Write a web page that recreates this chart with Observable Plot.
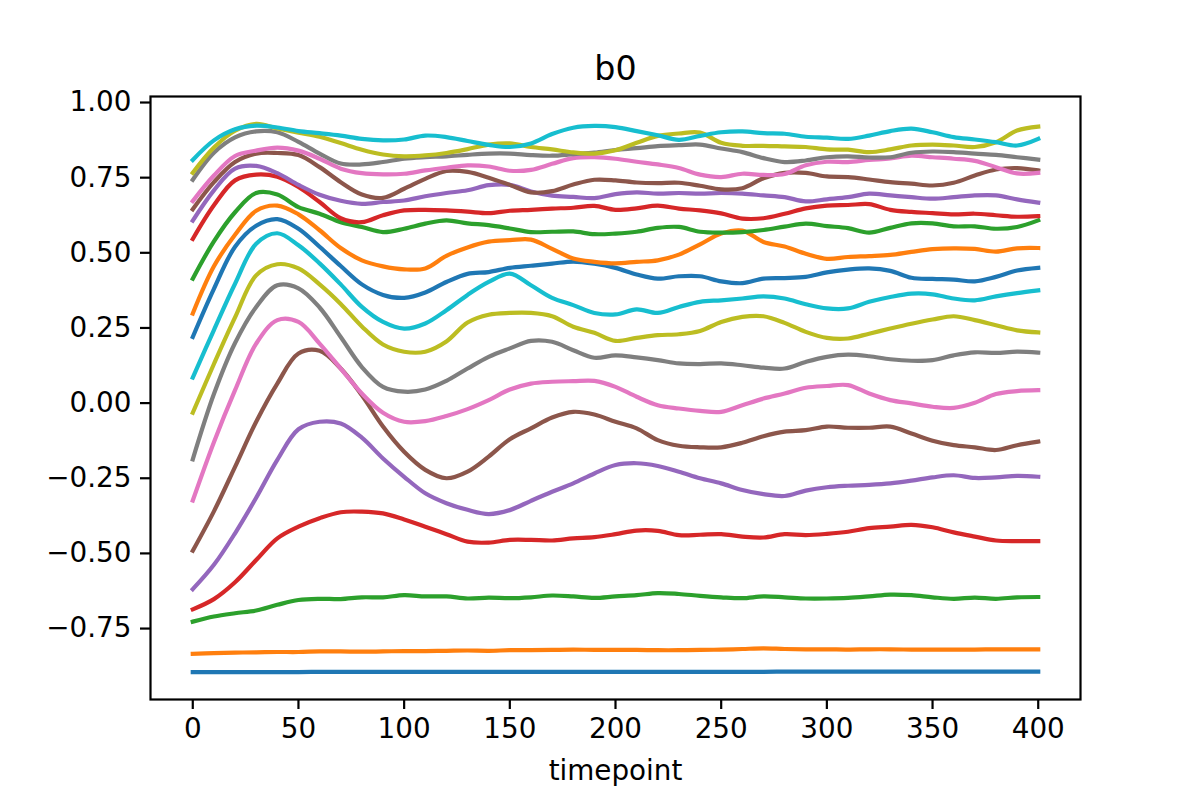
<!DOCTYPE html>
<html>
<head>
<meta charset="utf-8">
<script src="https://cdn.jsdelivr.net/npm/d3@7"></script>
<script src="https://cdn.jsdelivr.net/npm/@observablehq/plot@0.6"></script>
<style>
  html, body { margin: 0; padding: 0; background: #fff; }
  #chart svg { display: block; }
</style>
</head>
<body>
<div id="chart"></div>
<script>
// ---- data ----
const title = "b0";
const xLabel = "timepoint";
const xTicks = [0, 50, 100, 150, 200, 250, 300, 350, 400];
const yTicks = [-0.75, -0.5, -0.25, 0, 0.25, 0.5, 0.75, 1.0];
const timepoints = [0,10,20,30,40,50,60,70,80,90,100,110,120,130,140,150,160,170,180,190,200,
                    210,220,230,240,250,260,270,280,290,300,310,320,330,340,350,360,370,380,390,400];
const palette = ["#1f77b4","#ff7f0e","#2ca02c","#d62728","#9467bd","#8c564b","#e377c2","#7f7f7f","#bcbd22","#17becf"];

const s01 = [-0.895,-0.895,-0.895,-0.895,-0.895,-0.895,-0.894,-0.894,-0.894,-0.894,-0.894,-0.894,-0.894,-0.894,-0.894,-0.894,-0.894,-0.894,-0.894,-0.894,-0.894,
             -0.894,-0.894,-0.894,-0.894,-0.894,-0.894,-0.894,-0.893,-0.893,-0.893,-0.893,-0.893,-0.893,-0.893,-0.893,-0.893,-0.893,-0.893,-0.893,-0.893];
const s02 = [-0.834,-0.832,-0.830,-0.829,-0.828,-0.828,-0.826,-0.826,-0.827,-0.826,-0.825,-0.825,-0.824,-0.823,-0.824,-0.822,-0.822,-0.821,-0.820,-0.821,-0.821,
             -0.821,-0.822,-0.822,-0.821,-0.820,-0.818,-0.816,-0.818,-0.819,-0.819,-0.820,-0.819,-0.819,-0.820,-0.820,-0.820,-0.820,-0.819,-0.819,-0.819];
const s03 = [-0.727,-0.710,-0.699,-0.690,-0.671,-0.655,-0.651,-0.652,-0.646,-0.646,-0.639,-0.643,-0.643,-0.650,-0.647,-0.649,-0.646,-0.640,-0.643,-0.648,-0.643,
             -0.639,-0.632,-0.635,-0.641,-0.646,-0.649,-0.643,-0.646,-0.650,-0.650,-0.648,-0.643,-0.637,-0.639,-0.646,-0.651,-0.647,-0.651,-0.646,-0.645];
const s04 = [-0.686,-0.652,-0.596,-0.522,-0.450,-0.411,-0.383,-0.363,-0.361,-0.367,-0.387,-0.411,-0.436,-0.461,-0.464,-0.455,-0.455,-0.457,-0.450,-0.446,-0.436,
             -0.424,-0.425,-0.439,-0.438,-0.436,-0.444,-0.447,-0.436,-0.439,-0.435,-0.428,-0.416,-0.411,-0.405,-0.413,-0.430,-0.444,-0.457,-0.459,-0.459];
const s05 = [-0.619,-0.538,-0.433,-0.315,-0.189,-0.087,-0.062,-0.068,-0.115,-0.184,-0.245,-0.300,-0.333,-0.355,-0.369,-0.356,-0.325,-0.295,-0.267,-0.234,-0.206,
             -0.200,-0.209,-0.228,-0.250,-0.267,-0.289,-0.303,-0.309,-0.291,-0.280,-0.275,-0.272,-0.267,-0.258,-0.247,-0.240,-0.249,-0.247,-0.242,-0.245];
const s06 = [-0.491,-0.360,-0.212,-0.062,0.065,0.165,0.174,0.115,0.026,-0.078,-0.162,-0.222,-0.250,-0.228,-0.178,-0.120,-0.084,-0.048,-0.029,-0.038,-0.062,
             -0.084,-0.123,-0.142,-0.147,-0.147,-0.132,-0.110,-0.095,-0.090,-0.078,-0.082,-0.082,-0.078,-0.101,-0.125,-0.140,-0.147,-0.156,-0.140,-0.128];
const s07 = [-0.324,-0.130,0.043,0.198,0.276,0.270,0.198,0.115,0.032,-0.032,-0.062,-0.060,-0.043,-0.020,0.010,0.045,0.065,0.071,0.073,0.074,0.054,
             0.021,-0.007,-0.018,-0.026,-0.029,-0.007,0.015,0.032,0.051,0.057,0.060,0.032,0.010,-0.001,-0.012,-0.016,0.001,0.030,0.040,0.043];
const s08 = [-0.187,0.030,0.200,0.320,0.392,0.382,0.318,0.220,0.120,0.054,0.038,0.045,0.074,0.115,0.154,0.182,0.207,0.204,0.176,0.151,0.159,
             0.152,0.143,0.132,0.130,0.132,0.126,0.118,0.115,0.137,0.154,0.161,0.156,0.146,0.141,0.143,0.159,0.169,0.167,0.171,0.168];
const s09 = [-0.032,0.130,0.285,0.425,0.462,0.448,0.395,0.330,0.255,0.195,0.171,0.171,0.205,0.268,0.294,0.300,0.300,0.289,0.254,0.234,0.207,
             0.217,0.226,0.229,0.240,0.270,0.287,0.289,0.267,0.237,0.217,0.215,0.231,0.248,0.264,0.278,0.289,0.276,0.259,0.242,0.235];
const s10 = [0.085,0.243,0.397,0.530,0.565,0.525,0.465,0.395,0.320,0.270,0.248,0.265,0.309,0.360,0.403,0.431,0.392,0.350,0.326,0.300,0.295,
             0.312,0.300,0.320,0.337,0.342,0.348,0.355,0.348,0.329,0.315,0.315,0.337,0.353,0.364,0.362,0.348,0.342,0.355,0.366,0.375];
const s11 = [0.220,0.380,0.520,0.590,0.612,0.580,0.520,0.456,0.395,0.360,0.350,0.368,0.403,0.430,0.436,0.450,0.457,0.464,0.471,0.464,0.450,
             0.428,0.414,0.422,0.422,0.405,0.399,0.414,0.416,0.420,0.435,0.444,0.448,0.440,0.417,0.413,0.411,0.405,0.420,0.441,0.450];
const s12 = [0.298,0.455,0.560,0.640,0.657,0.628,0.575,0.516,0.475,0.455,0.445,0.448,0.490,0.518,0.537,0.542,0.544,0.513,0.481,0.470,0.465,
             0.470,0.475,0.494,0.528,0.564,0.574,0.536,0.521,0.497,0.480,0.486,0.489,0.493,0.503,0.512,0.515,0.513,0.504,0.515,0.516];
const s13 = [0.414,0.538,0.635,0.699,0.694,0.652,0.630,0.602,0.586,0.569,0.580,0.597,0.608,0.598,0.592,0.581,0.569,0.570,0.571,0.562,0.564,
             0.570,0.583,0.586,0.570,0.567,0.569,0.576,0.587,0.597,0.589,0.582,0.567,0.583,0.598,0.598,0.588,0.588,0.580,0.586,0.608];
const s14 = [0.546,0.658,0.741,0.760,0.753,0.719,0.669,0.615,0.602,0.625,0.641,0.643,0.641,0.637,0.632,0.640,0.643,0.647,0.650,0.656,0.643,
             0.648,0.657,0.647,0.641,0.631,0.614,0.615,0.630,0.648,0.657,0.659,0.662,0.643,0.636,0.632,0.628,0.630,0.625,0.620,0.622];
const s15 = [0.607,0.708,0.780,0.789,0.765,0.726,0.693,0.673,0.663,0.669,0.674,0.688,0.699,0.708,0.725,0.726,0.704,0.690,0.686,0.682,0.695,
             0.701,0.697,0.699,0.697,0.699,0.697,0.691,0.685,0.671,0.678,0.685,0.697,0.691,0.685,0.680,0.685,0.691,0.691,0.678,0.667];
const s16 = [0.645,0.735,0.802,0.830,0.832,0.825,0.785,0.735,0.694,0.683,0.713,0.746,0.772,0.769,0.750,0.726,0.701,0.705,0.727,0.743,0.741,
             0.734,0.732,0.733,0.723,0.711,0.715,0.748,0.766,0.766,0.754,0.752,0.744,0.735,0.730,0.724,0.733,0.757,0.777,0.782,0.774];
const s17 = [0.672,0.757,0.822,0.840,0.850,0.840,0.813,0.780,0.765,0.761,0.763,0.774,0.783,0.791,0.787,0.773,0.776,0.796,0.815,0.818,0.813,
             0.803,0.794,0.782,0.760,0.752,0.763,0.759,0.762,0.791,0.803,0.802,0.809,0.814,0.823,0.818,0.813,0.806,0.785,0.764,0.766];
const s18 = [0.743,0.833,0.884,0.904,0.901,0.869,0.830,0.797,0.794,0.802,0.813,0.818,0.821,0.826,0.830,0.830,0.825,0.823,0.828,0.833,0.842,
             0.848,0.855,0.858,0.860,0.847,0.835,0.815,0.802,0.807,0.818,0.821,0.817,0.818,0.833,0.837,0.835,0.830,0.826,0.818,0.810];
const s19 = [0.766,0.850,0.906,0.929,0.914,0.900,0.886,0.865,0.843,0.827,0.821,0.824,0.832,0.845,0.860,0.864,0.852,0.844,0.834,0.830,0.841,
             0.866,0.889,0.897,0.900,0.866,0.856,0.856,0.854,0.852,0.844,0.843,0.835,0.844,0.857,0.860,0.857,0.852,0.868,0.907,0.920];
const s20 = [0.809,0.874,0.911,0.923,0.917,0.905,0.898,0.890,0.879,0.874,0.877,0.890,0.885,0.872,0.859,0.852,0.864,0.895,0.916,0.922,0.918,
             0.905,0.891,0.876,0.889,0.901,0.904,0.898,0.896,0.886,0.883,0.879,0.890,0.905,0.913,0.901,0.885,0.877,0.868,0.857,0.879];

// ---- build the long table for Plot ----
const allSeries = [s01,s02,s03,s04,s05,s06,s07,s08,s09,s10,s11,s12,s13,s14,s15,s16,s17,s18,s19,s20];
const rows = allSeries.flatMap((vals, i) =>
  vals.map((v, j) => ({series: i, t: timepoints[j], value: v})));
const seriesIds = allSeries.map((_, i) => i);
const seriesColors = allSeries.map((_, i) => palette[i % palette.length]);

const fontFamily = "'DejaVu Sans', sans-serif";
const tickFont = 27.8;

const chart = Plot.plot({
  width: 1200,
  height: 800,
  marginLeft: 150,
  marginRight: 120,
  marginTop: 96,
  marginBottom: 101,
  style: {fontFamily, fontSize: tickFont + "px", background: "white", color: "black", overflow: "visible"},
  x: {domain: [-20, 420], label: null},
  y: {domain: [-0.986, 1.02], label: null},
  color: {type: "ordinal", domain: seriesIds, range: seriesColors},
  marks: [
    Plot.line(rows, {x: "t", y: "value", z: "series", stroke: "series",
                     strokeWidth: 4.2, curve: "catmull-rom", strokeLinejoin: "round", strokeLinecap: "square"}),
    Plot.frame({stroke: "black", strokeWidth: 2.2}),
    Plot.axisX({ticks: xTicks, tickSize: 10, tickPadding: 9, strokeWidth: 2.2,
                tickFormat: d => String(d), fontSize: tickFont, label: null}),
    Plot.axisY({ticks: yTicks, tickSize: 10, tickPadding: 9, strokeWidth: 2.2,
                tickFormat: d3.format(".2f"), fontSize: tickFont, label: null}),
    Plot.text([title], {text: d => d, frameAnchor: "top", dy: -17, lineAnchor: "bottom",
                        fontSize: 33.3, fill: "black"}),
    Plot.text([xLabel], {text: d => d, frameAnchor: "bottom", dy: 80, lineAnchor: "bottom",
                         fontSize: tickFont, fill: "black"})
  ]
});
document.getElementById("chart").appendChild(chart);
</script>
</body>
</html>
